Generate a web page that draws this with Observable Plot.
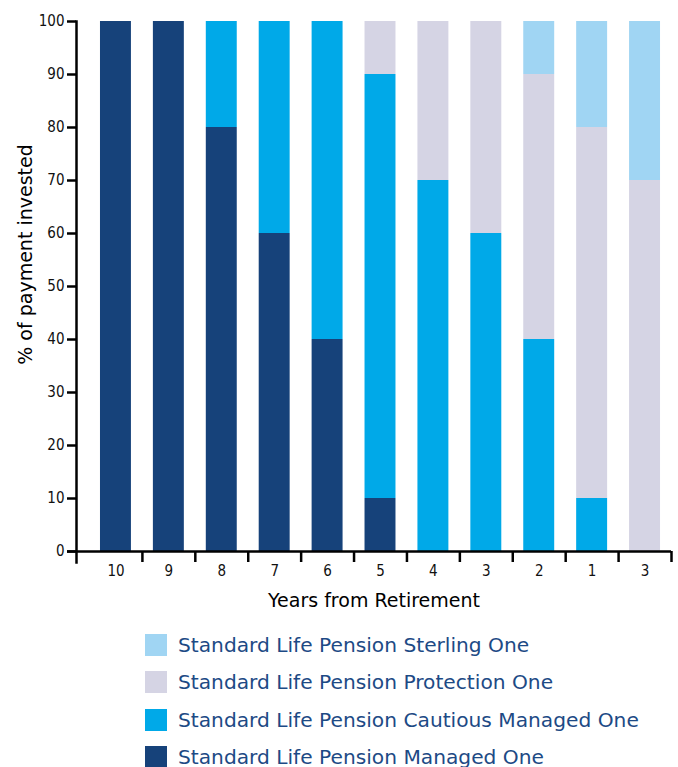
<!DOCTYPE html>
<html>
<head>
<meta charset="utf-8">
<script src="https://cdn.jsdelivr.net/npm/d3@7"></script>
<script src="https://cdn.jsdelivr.net/npm/@observablehq/plot@0.6"></script>
<style>
  html, body { margin: 0; padding: 0; background: #fff; }
  body { width: 678px; height: 767px; overflow: hidden; font-family: "DejaVu Sans", Verdana, sans-serif; }
  #chart { position: absolute; left: 0; top: 0; }
  #legend { position: absolute; left: 145px; top: 626px; }
  .row { display: flex; align-items: center; height: 37.5px; }
  .sw { width: 22px; height: 22px; margin-right: 11px; flex: none; }
  .lab { font-size: 20.2px; color: #1d4a85; white-space: nowrap; }
</style>
</head>
<body>
<div id="chart"></div>
<div id="legend"></div>
<script>
const years = ["10", "9", "8", "7", "6", "5", "4", "3", "2", "1", "3"];
const seriesNames = [
  "Standard Life Pension Managed One",
  "Standard Life Pension Cautious Managed One",
  "Standard Life Pension Protection One",
  "Standard Life Pension Sterling One"
];
const seriesColors = ["#16427a", "#00a9e8", "#d5d4e4", "#a0d5f3"];
const managed    = [100, 100, 80, 60, 40, 10,  0,  0,  0,  0,  0];
const cautious   = [  0,   0, 20, 40, 60, 80, 70, 60, 40, 10,  0];
const protection = [  0,   0,  0,  0,  0, 10, 30, 40, 50, 70, 70];
const sterling   = [  0,   0,  0,  0,  0,  0,  0,  0, 10, 20, 30];
const yTicks = [0, 10, 20, 30, 40, 50, 60, 70, 80, 90, 100];

const seriesValues = [managed, cautious, protection, sterling];
const data = [];
seriesNames.forEach((name, s) => {
  years.forEach((yr, i) => {
    data.push({ idx: i, series: name, value: seriesValues[s][i] });
  });
});

const W = 678, H = 620, mL = 76, mR = 7, mT = 21, mB = 69;
const inset = 13;
const step = (W - mR - mL - inset) / years.length;
const tickFont = "DejaVu Sans Condensed, DejaVu Sans, sans-serif";

const chart = Plot.plot({
  width: W,
  height: H,
  marginLeft: mL,
  marginRight: mR,
  marginTop: mT,
  marginBottom: mB,
  style: { fontFamily: "DejaVu Sans, Verdana, sans-serif", fontSize: "13px", color: "#000", background: "#fff" },
  x: {
    domain: years.map((d, i) => i),
    insetLeft: inset,
    paddingInner: 0.415,
    paddingOuter: 0.2075,
    round: false,
    axis: null
  },
  y: { domain: [0, 100], axis: null },
  color: { domain: seriesNames, range: seriesColors },
  marks: [
    Plot.barY(data, Plot.stackY({
      x: "idx",
      y: "value",
      z: "series",
      fill: "series",
      order: seriesNames
    })),
    Plot.axisY({
      ticks: yTicks,
      tickSize: 9,
      tickPadding: 3,
      fontSize: 15,
      fontFamily: tickFont,
      strokeWidth: 2.5,
      label: null,
      fill: "#111"
    }),
    Plot.axisX({
      tickSize: 0,
      tickPadding: 14,
      fontSize: 15,
      fontFamily: tickFont,
      tickFormat: (i) => years[i],
      label: null,
      fill: "#111"
    }),
    Plot.axisX({
      tickSize: 11,
      tickFormat: () => "",
      dx: step / 2,
      strokeWidth: 2.5,
      label: null
    }),
    Plot.frame({ anchor: "left", insetBottom: -11, strokeWidth: 2.5 }),
    Plot.ruleY([0], { strokeWidth: 2.5, insetLeft: -9 }),
    Plot.text(["Years from Retirement"], {
      frameAnchor: "bottom",
      dy: 55,
      fontSize: 19,
      fill: "#000"
    }),
    Plot.text(["% of payment invested"], {
      frameAnchor: "left",
      textAnchor: "middle",
      rotate: -90,
      dx: -51,
      dy: -32,
      fontSize: 19,
      fill: "#000"
    })
  ]
});
document.getElementById("chart").appendChild(chart);

const legend = document.getElementById("legend");
for (let s = seriesNames.length - 1; s >= 0; s--) {
  const row = document.createElement("div");
  row.className = "row";
  const sw = document.createElement("div");
  sw.className = "sw";
  sw.style.background = seriesColors[s];
  const lab = document.createElement("span");
  lab.className = "lab";
  lab.textContent = seriesNames[s];
  row.appendChild(sw);
  row.appendChild(lab);
  legend.appendChild(row);
}
</script>
</body>
</html>
